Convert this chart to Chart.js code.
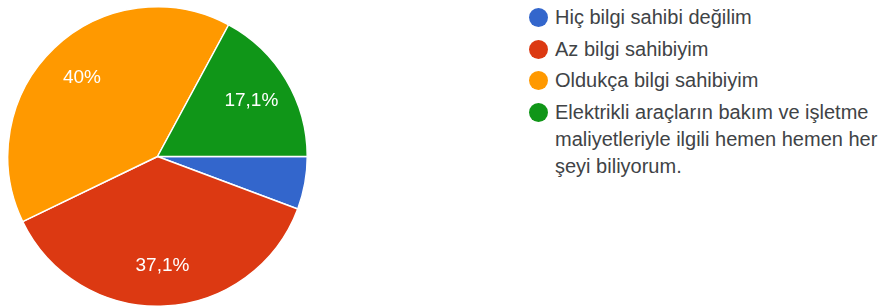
<!DOCTYPE html>
<html>
<head>
<meta charset="utf-8">
<script src="https://cdn.jsdelivr.net/npm/chart.js@4/dist/chart.umd.min.js"></script>
<style>
  html, body { margin: 0; padding: 0; background: #fff; }
  body { width: 881px; height: 306px; position: relative; overflow: hidden; font-family: "Liberation Sans", Arial, sans-serif; }
  #pieBox { position: absolute; left: 7px; top: 6px; width: 301px; height: 301px; }
  #legend { position: absolute; left: 528px; top: 4px; width: 352px; margin: 0; padding: 0; list-style: none; }
  #legend li { position: relative; padding-left: 27px; font-size: 20px; line-height: 27px; color: #404346; margin-bottom: 4.5px; }
  #legend li span.dot { position: absolute; left: 1px; top: 4px; width: 19px; height: 19px; border-radius: 50%; }
</style>
</head>
<body>
<div id="pieBox"><canvas id="pie"></canvas></div>
<ul id="legend"></ul>
<script>
// answers and share of responses (%)
var labels = [
    'Hiç bilgi sahibi değilim',
    'Az bilgi sahibiyim',
    'Oldukça bilgi sahibiyim',
    'Elektrikli araçların bakım ve işletme maliyetleriyle ilgili hemen hemen her şeyi biliyorum.'
];
var values = [5.7, 37.1, 40, 17.1];
var colors = ['#3366cc', '#dc3912', '#ff9900', '#109618'];

// legend on the right
var legend = document.getElementById('legend');
labels.forEach(function(txt, i) {
    var li = document.createElement('li');
    var dot = document.createElement('span');
    dot.className = 'dot';
    dot.style.background = colors[i];
    li.appendChild(dot);
    li.appendChild(document.createTextNode(txt));
    legend.appendChild(li);
});

// percentage text inside the slices
var sliceLabels = {
    id: 'sliceLabels',
    afterDatasetsDraw: function(chart) {
        var ctx = chart.ctx;
        var meta = chart.getDatasetMeta(0);
        ctx.save();
        ctx.fillStyle = '#ffffff';
        ctx.font = '19px "Liberation Sans", Arial, sans-serif';
        ctx.textAlign = 'center';
        ctx.textBaseline = 'middle';
        meta.data.forEach(function(arc, i) {
            var v = values[i];
            if (v < 8) return;
            var mid = (arc.startAngle + arc.endAngle) / 2;
            var r = arc.outerRadius * 0.73;
            var x = arc.x + Math.cos(mid) * r;
            var y = arc.y + Math.sin(mid) * r;
            ctx.fillText(String(v).replace('.', ',') + '%', x, y);
        });
        ctx.restore();
    }
};

var ctx = document.getElementById('pie').getContext('2d');
var pieChart = new Chart(ctx, {
    type: 'pie',
    data: {
        labels: labels,
        datasets: [{
            data: values,
            backgroundColor: colors,
            borderColor: '#ffffff',
            borderWidth: 1.5
        }]
    },
    options: {
        responsive: true,
        maintainAspectRatio: false,
        animation: false,
        rotation: 90,
        layout: { padding: 0 },
        plugins: {
            legend: { display: false },
            tooltip: { enabled: false }
        }
    },
    plugins: [sliceLabels]
});
</script>
</body>
</html>
